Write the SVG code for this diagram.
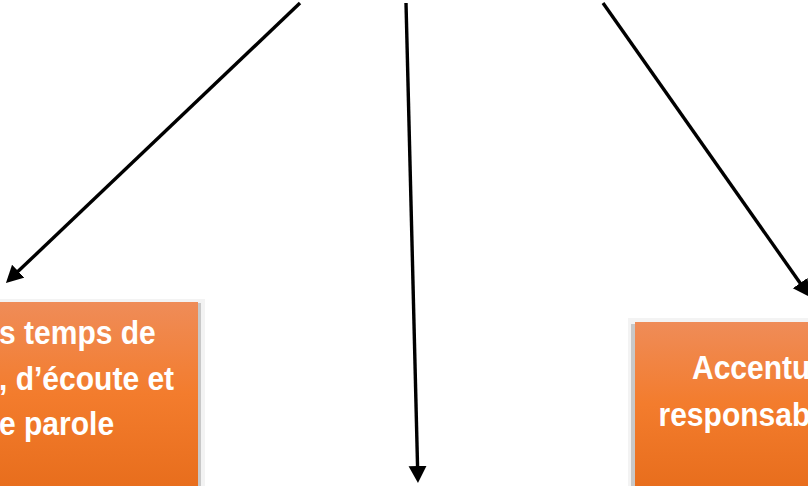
<svg xmlns="http://www.w3.org/2000/svg" width="808" height="486" viewBox="0 0 808 486">
<style>
.arrow{stroke:#000;stroke-width:3.4;fill:none;marker-end:url(#head)}
.lbl{font-family:"Liberation Sans",Arial,sans-serif;font-weight:bold;font-size:33px;fill:#fff}
.halo{fill:#f3f3f3}
.shade{fill:#c8c8c8}
.box{fill:url(#og)}
</style>
<defs>
<linearGradient id="og" x1="0" y1="0" x2="0" y2="1">
<stop offset="0" stop-color="#EF8C58"/>
<stop offset="0.5" stop-color="#F37C2D"/>
<stop offset="1" stop-color="#E86E1D"/>
</linearGradient>
<marker id="head" markerUnits="userSpaceOnUse" markerWidth="19" markerHeight="19" refX="2" refY="9" orient="auto">
<path d="M0,0 L17,9 L0,18 z" fill="#000"/>
</marker>
</defs>
<rect width="808" height="486" fill="#fff"/>
<g id="connectors">
<line class="arrow" x1="300" y1="3" x2="16.8" y2="272.6"/>
<line class="arrow" x1="406" y1="3" x2="417.6" y2="468"/>
<line class="arrow" x1="603" y1="3" x2="801.3" y2="284.7"/>
</g>
<g id="node-left">
<rect class="halo" x="0" y="299" width="205" height="187"/>
<rect class="shade" x="197" y="303" width="4" height="183"/>
<rect class="box" x="0" y="302" width="198" height="184"/>
<text class="lbl" transform="translate(-1,344) scale(0.91,1)">s temps de</text>
<text class="lbl" transform="translate(-1,389.5) scale(0.91,1)">, d’écoute et</text>
<text class="lbl" transform="translate(-1,435) scale(0.91,1)">e parole</text>
</g>
<g id="node-right">
<rect class="halo" x="628" y="318" width="180" height="168"/>
<rect class="shade" x="631" y="324" width="5" height="162"/>
<rect class="box" x="635" y="322" width="173" height="164"/>
<text class="lbl" transform="translate(692,379) scale(0.91,1)">Accentu</text>
<text class="lbl" transform="translate(658.5,426) scale(0.91,1)">responsab</text>
</g>
</svg>
